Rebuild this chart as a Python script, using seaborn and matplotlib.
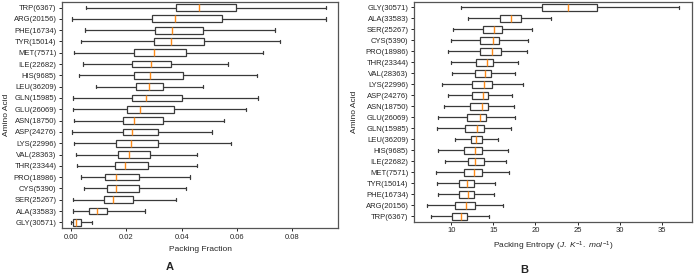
import numpy as np
import pandas as pd
import matplotlib
matplotlib.use("Agg")
import matplotlib.pyplot as plt
import seaborn as sns

#%% Daten: je Aminosaeure Whisker-unten, Q1, Median, Q3, Whisker-oben

counts = {'TRP': 6367, 'ARG': 20156, 'PHE': 16734, 'TYR': 15014, 'MET': 7571,
          'ILE': 22682, 'HIS': 9685, 'LEU': 36209, 'GLN': 15985, 'GLU': 26069,
          'ASN': 18750, 'ASP': 24276, 'LYS': 22996, 'VAL': 28363, 'THR': 23344,
          'PRO': 18986, 'CYS': 5390, 'SER': 25267, 'ALA': 33583, 'GLY': 30571}

order_frac = ['TRP', 'ARG', 'PHE', 'TYR', 'MET', 'ILE', 'HIS', 'LEU', 'GLN', 'GLU',
              'ASN', 'ASP', 'LYS', 'VAL', 'THR', 'PRO', 'CYS', 'SER', 'ALA', 'GLY']
order_entr = ['GLY', 'ALA', 'SER', 'CYS', 'PRO', 'THR', 'VAL', 'LYS', 'ASP', 'ASN',
              'GLU', 'GLN', 'LEU', 'HIS', 'ILE', 'MET', 'TYR', 'PHE', 'ARG', 'TRP']

frac = {
    'TRP': [0.0054, 0.0378, 0.0461, 0.0596, 0.0923],
    'ARG': [0.0005, 0.0294, 0.0375, 0.0545, 0.0923],
    'PHE': [0.0049, 0.0305, 0.0365, 0.0477, 0.0736],
    'TYR': [0.0035, 0.0299, 0.0363, 0.0482, 0.0754],
    'MET': [0.0012, 0.0228, 0.0300, 0.0416, 0.0695],
    'ILE': [0.0042, 0.0222, 0.0290, 0.0361, 0.0569],
    'HIS': [0.0028, 0.0229, 0.0284, 0.0406, 0.0672],
    'LEU': [0.0090, 0.0234, 0.0282, 0.0331, 0.0476],
    'GLN': [0.0006, 0.0219, 0.0271, 0.0402, 0.0677],
    'GLU': [0.0006, 0.0201, 0.0251, 0.0373, 0.0634],
    'ASN': [0.0012, 0.0189, 0.0228, 0.0334, 0.0552],
    'ASP': [0.0004, 0.0187, 0.0222, 0.0316, 0.0508],
    'LYS': [0.0011, 0.0164, 0.0217, 0.0316, 0.0580],
    'VAL': [0.0019, 0.0171, 0.0208, 0.0287, 0.0454],
    'THR': [0.0022, 0.0160, 0.0194, 0.0278, 0.0454],
    'PRO': [0.0035, 0.0124, 0.0164, 0.0247, 0.0430],
    'CYS': [0.0046, 0.0131, 0.0164, 0.0246, 0.0414],
    'SER': [0.0008, 0.0119, 0.0153, 0.0225, 0.0381],
    'ALA': [0.0006, 0.0066, 0.0092, 0.0129, 0.0267],
    'GLY': [0.0000, 0.0008, 0.0018, 0.0036, 0.0075],
}

entr = {
    'GLY': [11.14, 20.75, 23.86, 27.28, 37.05],
    'ALA': [12.00, 15.79, 17.13, 18.31, 21.81],
    'SER': [10.24, 13.70, 15.12, 16.02, 19.53],
    'CYS': [10.00, 13.43, 14.92, 15.71, 19.09],
    'PRO': [9.57, 13.35, 14.88, 15.91, 19.02],
    'THR': [9.92, 12.95, 14.29, 14.96, 17.95],
    'VAL': [10.04, 12.83, 14.02, 14.72, 17.60],
    'LYS': [8.86, 12.44, 13.82, 14.88, 18.54],
    'ASP': [9.57, 12.48, 13.78, 14.41, 17.24],
    'ASN': [9.09, 12.24, 13.62, 14.41, 17.48],
    'GLU': [8.39, 11.81, 13.35, 14.17, 17.56],
    'GLN': [8.23, 11.57, 13.03, 13.82, 17.13],
    'LEU': [10.39, 12.28, 12.91, 13.58, 15.59],
    'HIS': [8.39, 11.54, 12.83, 13.66, 16.69],
    'ILE': [9.21, 11.93, 12.83, 13.82, 16.50],
    'MET': [8.11, 11.46, 12.72, 13.66, 16.89],
    'TYR': [8.27, 10.94, 11.89, 12.72, 15.24],
    'PHE': [8.46, 10.94, 11.93, 12.64, 15.08],
    'ARG': [7.05, 10.47, 11.77, 12.76, 16.14],
    'TRP': [7.60, 10.12, 11.10, 11.81, 14.53],
}

#%% Hilfsfunktion: Langformat-Tabelle, Label mit Anzahl

def long_df(stats, order):
    rows = []
    for aa in order:
        lab = '%s(%d)' % (aa, counts[aa])
        for v in stats[aa]:
            rows.append((lab, v))
    return pd.DataFrame(rows, columns=['aa', 'val'])

df_a = long_df(frac, order_frac)
df_b = long_df(entr, order_entr)

#%% Plot

sns.set_style("ticks")
plt.rcParams['font.family'] = ['Liberation Sans', 'DejaVu Sans']
plt.rcParams['mathtext.fontset'] = 'custom'
plt.rcParams['mathtext.it'] = 'Liberation Sans:italic'
plt.rcParams['mathtext.rm'] = 'Liberation Sans'

fig = plt.figure(figsize=(6.94, 2.74), dpi=100)
ax1 = fig.add_axes([0.0893, 0.168, 0.398, 0.825])
ax2 = fig.add_axes([0.5965, 0.19, 0.4005, 0.803])

box_kw = dict(orient='h', whis=(0, 100), showfliers=False, width=0.6,
              color='white', linecolor='#3a3a3a', linewidth=0.9,
              medianprops=dict(color='#ff8c1a', linewidth=1.0))

sns.boxplot(data=df_a, x='val', y='aa', ax=ax1, **box_kw)
sns.boxplot(data=df_b, x='val', y='aa', ax=ax2, **box_kw)

ax1.set_xlim(-0.0033, 0.0966)
ax1.set_xticks([0.0, 0.02, 0.04, 0.06, 0.08])
ax1.set_xticklabels(['0.00', '0.02', '0.04', '0.06', '0.08'])
ax2.set_xlim(5.55, 38.6)
ax2.set_xticks([10, 15, 20, 25, 30, 35])

ax1.set_xlabel('Packing Fraction', fontsize=6)
ax2.set_xlabel(r'Packing Entropy ($J.\ K^{-1}.\ mol^{-1}$)', fontsize=6)
for ax in (ax1, ax2):
    ax.set_ylabel('Amino Acid', fontsize=6)
    ax.tick_params(labelsize=5.5, length=2.5, width=0.7, pad=1.5)
    for s in ax.spines.values():
        s.set_color('#555555')
        s.set_linewidth(0.9)

ax1.yaxis.set_label_coords(-0.188, 0.5)
ax2.yaxis.set_label_coords(-0.2, 0.5)

fig.text(170/694, 1 - 267/274, 'A', fontsize=8, fontweight='bold', ha='center', va='center')
fig.text(524/694, 1 - 270/274, 'B', fontsize=8, fontweight='bold', ha='center', va='center')

fig.savefig('out.png', dpi=100)
